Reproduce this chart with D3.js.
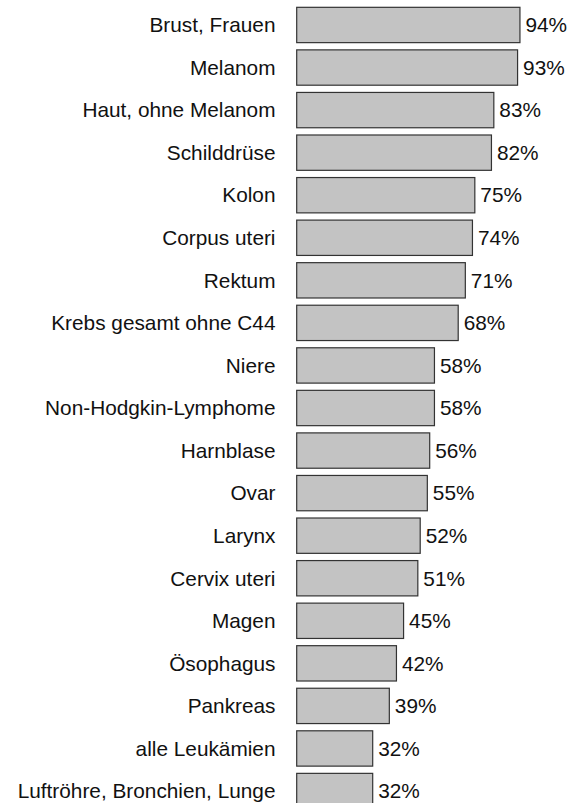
<!DOCTYPE html>
<meta charset="utf-8">
<script src="https://d3js.org/d3.v7.min.js"></script>
<style>
  body { margin: 0; background: #fff; }
  text { font-family: "Liberation Sans", Arial, sans-serif; fill: #111; }
</style>
<div id="chart"></div>
<script>
  // categories and survival rates (%)
  var categories = ["Brust, Frauen", "Melanom", "Haut, ohne Melanom", "Schilddrüse", "Kolon",
    "Corpus uteri", "Rektum", "Krebs gesamt ohne C44", "Niere", "Non-Hodgkin-Lymphome",
    "Harnblase", "Ovar", "Larynx", "Cervix uteri", "Magen", "Ösophagus", "Pankreas",
    "alle Leukämien", "Luftröhre, Bronchien, Lunge"];
  var values = [94, 93, 83, 82, 75, 74, 71, 68, 58, 58, 56, 55, 52, 51, 45, 42, 39, 32, 32];

  var width = 578, height = 803;

  var svg = d3.select("#chart")
    .append("svg")
    .attr("width", width)
    .attr("height", height);

  var x = d3.scaleLinear()
    .domain([0, 100])
    .range([296.7, 534.2]);

  var y = d3.scaleBand()
    .domain(categories)
    .range([3.7, 812.3])
    .paddingInner(0.17)
    .paddingOuter(0.085);

  var rows = svg.append("g")
    .selectAll("g")
    .data(categories)
    .enter()
    .append("g");

  rows.append("rect")
    .attr("x", x(0))
    .attr("y", function (d) { return y(d); })
    .attr("width", function (d, i) { return x(values[i]) - x(0); })
    .attr("height", y.bandwidth())
    .style("fill", "#c3c3c3")
    .style("stroke", "#333")
    .style("stroke-width", 1.2);

  rows.append("text")
    .attr("x", 275.5)
    .attr("y", function (d) { return y(d) + y.bandwidth() / 2; })
    .attr("dy", "0.35em")
    .attr("text-anchor", "end")
    .style("font-size", "20.8px")
    .text(function (d) { return d; });

  rows.append("text")
    .attr("x", function (d, i) { return x(values[i]) + 5.5; })
    .attr("y", function (d) { return y(d) + y.bandwidth() / 2; })
    .attr("dy", "0.35em")
    .style("font-size", "20.8px")
    .text(function (d, i) { return values[i] + "%"; });
</script>
